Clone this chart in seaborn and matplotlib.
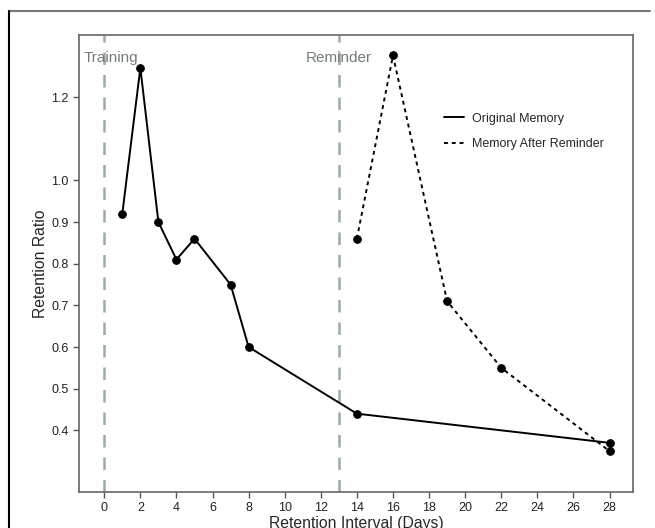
import pandas as pd
import matplotlib.pyplot as plt
import seaborn as sns
from matplotlib.lines import Line2D

sns.set_style('white')
plt.rcParams['font.family'] = ['Liberation Sans', 'DejaVu Sans']

# data
orig_days = [1, 2, 3, 4, 5, 7, 8, 14, 28]
orig_ratio = [0.92, 1.27, 0.90, 0.81, 0.86, 0.75, 0.60, 0.44, 0.37]
rem_days = [14, 16, 19, 22, 28]
rem_ratio = [0.86, 1.30, 0.71, 0.55, 0.35]
event_days = [0, 13]
event_labels = ['Training', 'Reminder']
x_ticks = list(range(0, 30, 2))
y_ticks = [0.4, 0.5, 0.6, 0.7, 0.8, 0.9, 1.0, 1.2]

df_orig = pd.DataFrame({'day': orig_days, 'ratio': orig_ratio})
df_rem = pd.DataFrame({'day': rem_days, 'ratio': rem_ratio})

fig = plt.figure(figsize=(6.55, 5.28), dpi=100)
ax = fig.add_axes([0.1206, 0.0682, 0.8458, 0.8655])

for d in event_days:
    ax.axvline(d, color='#9aaaae', linestyle=(0, (5, 4)), lw=1.8, zorder=1)
ax.text(0.35, 1.295, event_labels[0], ha='center', va='center', fontsize=11, color='#737b7b')
ax.text(13, 1.295, event_labels[1], ha='center', va='center', fontsize=11, color='#737b7b')

sns.lineplot(data=df_orig, x='day', y='ratio', ax=ax, color='black', lw=1.4,
             marker='o', markersize=5.5, markeredgecolor='black')
sns.lineplot(data=df_rem, x='day', y='ratio', ax=ax, color='black', lw=1.4,
             linestyle=(0, (2, 2)), marker='o', markersize=5.5, markeredgecolor='black')

ax.set_xlim(-1.4, 29.3)
ax.set_ylim(0.252, 1.349)
ax.set_xticks(x_ticks)
ax.set_yticks(y_ticks)
ax.set_yticklabels([f'{v:.1f}' for v in y_ticks])
ax.tick_params(axis='both', which='major', direction='out', length=4, width=1,
               color='#555555', labelsize=9, labelcolor='#222222', bottom=True, left=True)
for s in ax.spines.values():
    s.set_color('#666666')
    s.set_linewidth(1.2)
ax.set_xlabel('Retention Interval (Days)', fontsize=11.3, labelpad=1)
ax.set_ylabel('Retention Ratio', fontsize=11.3, labelpad=2.5)

handles = [Line2D([], [], color='black', lw=1.4),
           Line2D([], [], color='black', lw=1.4, linestyle=(0, (2, 2)))]
ax.legend(handles, ['Original Memory', 'Memory After Reminder'], loc='upper left',
          bbox_to_anchor=(0.638, 0.855), frameon=False, fontsize=9, handlelength=1.6,
          handletextpad=0.7, labelspacing=1.1)

# frame lines around the picture
fig.add_artist(Line2D([0.014, 0.993], [0.980, 0.980], color='#777777', lw=1.5))
fig.add_artist(Line2D([0.014, 0.014], [0.0, 0.980], color='black', lw=1.5))

fig.savefig('out.png', dpi=100)
